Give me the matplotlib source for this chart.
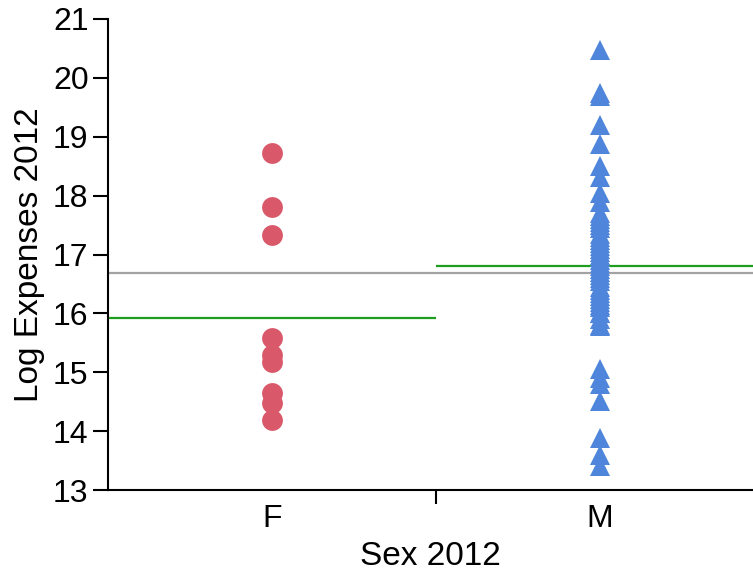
import numpy as np
import matplotlib
matplotlib.use('Agg')
import matplotlib.pyplot as plt

plt.rcParams['font.family'] = ['Liberation Sans', 'DejaVu Sans']

categories = ['F', 'M']

# Log Expenses 2012
f_values = [18.73, 17.81, 17.33, 15.58, 15.30, 15.17, 14.64, 14.47, 14.19]
m_values = [20.48, 19.75, 19.70, 19.20, 18.87, 18.51, 18.32, 18.04, 17.90, 17.66,
            17.55, 17.45, 17.35, 17.25, 17.15, 17.05, 16.95, 16.85, 16.75, 16.65,
            16.55, 16.45, 16.35, 16.25, 16.15, 16.00, 15.90, 15.80, 15.78, 15.06,
            14.90, 14.80, 14.52, 13.89, 13.59, 13.41,
            16.0, 16.1, 16.3, 16.4, 16.6, 16.7, 16.8, 16.9, 17.0, 17.1,
            17.2, 17.3, 17.5, 17.6, 17.7, 16.2]

y_ticks = [13, 14, 15, 16, 17, 18, 19, 20, 21]

RED = '#d9596b'
BLUE = '#4f86db'
GREEN = '#1e9e1e'
GREY = '#a3a3a3'

fig = plt.figure(figsize=(7.53, 5.73), dpi=100)
ax = fig.add_axes([108 / 753, 83 / 573, 1 - 108 / 753, (490 - 19) / 573])

pos = np.arange(len(categories))
groups = [f_values, m_values]
styles = [dict(marker='o', color=RED), dict(marker='^', color=BLUE)]

# grand mean behind, group means in green
all_vals = np.concatenate([np.array(g) for g in groups])
ax.axhline(all_vals.mean(), color=GREY, lw=1.6, zorder=1)

for p, vals, st in zip(pos, groups, styles):
    ax.hlines(np.mean(vals), p - 0.5, p + 0.5, color=GREEN, lw=1.6, zorder=2)
    ax.plot(np.full(len(vals), p), vals, linestyle='none', markersize=15,
            markeredgewidth=0, zorder=3, **st)

ax.set_xlim(-0.5, 1.466)
ax.set_ylim(13, 21)
ax.set_yticks(y_ticks)
ax.set_xticks(pos)
ax.set_xticklabels(categories)
ax.set_xticks([0.5], minor=True)
ax.tick_params(axis='x', which='major', length=0, pad=10, labelsize=23)
ax.tick_params(axis='x', which='minor', length=10, width=1.5)
ax.tick_params(axis='y', length=11, width=1.5, labelsize=23, pad=3)

for side in ['top', 'right']:
    ax.spines[side].set_visible(False)
for side in ['left', 'bottom']:
    ax.spines[side].set_linewidth(1.5)

ax.set_xlabel('Sex 2012', fontsize=24, labelpad=5)
ax.set_ylabel('Log Expenses 2012', fontsize=24, labelpad=6)

fig.savefig('out.png', dpi=100)
